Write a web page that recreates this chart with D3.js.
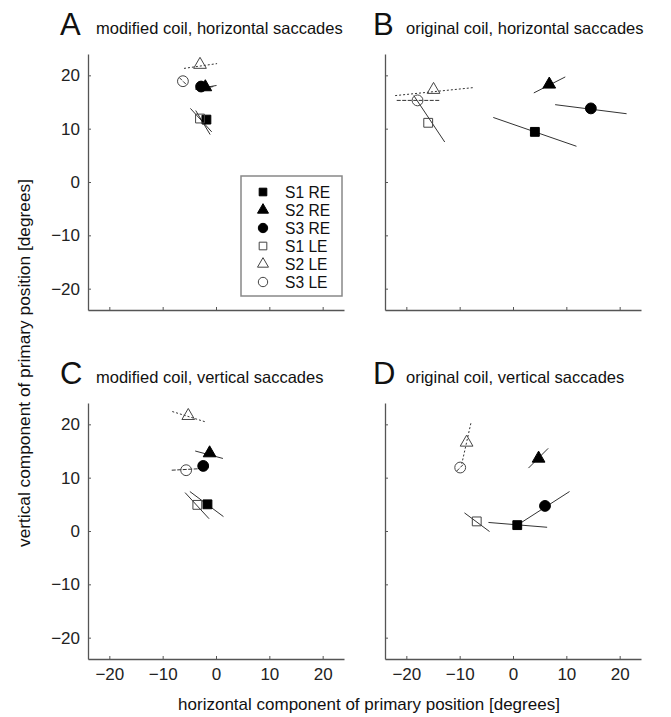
<!DOCTYPE html>
<html>
<head>
<meta charset="utf-8">
<script src="https://cdn.jsdelivr.net/npm/d3@7"></script>
<style>
  body { margin: 0; background: #fff; }
  text { font-family: "Liberation Sans", Arial, sans-serif; }
</style>
</head>
<body>
<script>
var width = 671,
    height = 717;

// series shown in every panel
var series = ["S1 RE", "S2 RE", "S3 RE", "S1 LE", "S2 LE", "S3 LE"];
var ticks = [-20, -10, 0, 10, 20];

// [series, x, y, line x1, y1, x2, y2]  (degrees)
var panelA = [
  ["S1 RE", -1.8, 11.7, -3.8, 13.4, -1.1, 8.9],
  ["S2 RE", -2.0, 17.8, -3.5, 17.3, -0.5, 17.9],
  ["S3 RE", -2.8, 17.9, -3.9, 17.4, 0.1, 18.1],
  ["S1 LE", -3.0, 11.9, -4.8, 13.8, -0.8, 9.4],
  ["S2 LE", -3.0, 22.0, -6.0, 21.3, 0.2, 22.2],
  ["S3 LE", -6.2, 18.9, -6.9, 19.6, -5.5, 18.2]
];
var panelB = [
  ["S1 RE", 4.1, 9.4, -3.7, 12.1, 11.9, 6.7],
  ["S2 RE", 6.8, 18.3, 3.9, 16.7, 9.8, 19.7],
  ["S3 RE", 14.6, 13.8, 7.9, 14.5, 21.3, 12.8],
  ["S1 LE", -15.9, 11.1, -18.6, 16.2, -12.8, 7.5],
  ["S2 LE", -14.9, 17.3, -22.1, 16.2, -7.4, 17.7],
  ["S3 LE", -17.9, 15.3, -21.8, 15.3, -13.7, 15.3]
];
var panelC = [
  ["S1 RE", -1.6, 5.0, -4.9, 7.4, 1.4, 2.7],
  ["S2 RE", -1.2, 14.6, -3.9, 15.0, 1.3, 13.6],
  ["S3 RE", -2.4, 12.2, -2.4, 12.2, -2.4, 12.2],
  ["S1 LE", -3.5, 4.9, -5.8, 7.2, -1.3, 2.3],
  ["S2 LE", -5.2, 21.6, -8.2, 22.4, -2.1, 20.5],
  ["S3 LE", -5.6, 11.4, -8.3, 11.4, -2.7, 11.7]
];
var panelD = [
  ["S1 RE", 0.8, 1.1, -4.6, 1.6, 6.4, 0.7],
  ["S2 RE", 4.8, 13.6, 2.9, 11.8, 6.6, 15.5],
  ["S3 RE", 6.0, 4.7, 0.8, 1.1, 10.6, 7.4],
  ["S1 LE", -6.8, 1.8, -9.1, 3.4, -4.4, -0.1],
  ["S2 LE", -8.7, 16.6, -7.9, 20.2, -9.6, 12.6],
  ["S3 LE", -9.9, 11.9, -10.6, 11.2, -9.2, 12.6]
];

var panels = [
  { letter: "A", title: "modified coil, horizontal saccades", data: panelA, left: 88, top: 54, lx: -28, tx: 8, yLabels: true, xLabels: false },
  { letter: "B", title: "original coil, horizontal saccades", data: panelB, left: 385, top: 54, lx: -12, tx: 21, yLabels: false, xLabels: false },
  { letter: "C", title: "modified coil, vertical saccades", data: panelC, left: 88, top: 403, lx: -28, tx: 8, yLabels: true, xLabels: true },
  { letter: "D", title: "original coil, vertical saccades", data: panelD, left: 385, top: 403, lx: -12, tx: 21, yLabels: false, xLabels: true }
];

var size = 256;

var svg = d3.select("body").append("svg")
    .attr("width", width)
    .attr("height", height)

var x = d3.scaleLinear().domain([-24, 24]).range([0, size]);
var y = d3.scaleLinear().domain([-24, 24]).range([size, 0]);

function shapeOf(s) {
    if (s.indexOf("S1") == 0) return d3.symbolSquare;
    if (s.indexOf("S2") == 0) return d3.symbolTriangle;
    return d3.symbolCircle;
}
function areaOf(s, k) {
    if (s.indexOf("S1") == 0) return 78 * k;
    if (s.indexOf("S2") == 0) return 70 * k;
    return 92 * k;
}
function filled(s) { return s.indexOf("RE") > 0 }
function dashOf(s) {
    if (s == "S2 LE") return "2,2";
    if (s == "S3 LE") return "4,1.5";
    return null;
}

panels.forEach(function (p) {
    var g = svg.append("g")
        .attr("transform", "translate(" + p.left + "," + p.top + ")");

    // panel title
    svg.append("text")
        .attr("x", p.left + p.lx)
        .attr("y", p.top - 19)
        .attr("font-size", 31)
        .attr("fill", "#111")
        .text(p.letter);
    svg.append("text")
        .attr("x", p.left + p.tx)
        .attr("y", p.top - 20)
        .attr("font-size", 16.5)
        .attr("fill", "#111")
        .text(p.title);

    var xAxis = d3.axisBottom(x).tickValues(ticks).tickSizeInner(-3).tickSizeOuter(0).tickPadding(9);
    var yAxis = d3.axisLeft(y).tickValues(ticks).tickSizeInner(-3).tickSizeOuter(0).tickPadding(8);
    if (!p.xLabels) xAxis.tickFormat("");
    if (!p.yLabels) yAxis.tickFormat("");

    var gx = g.append("g").attr("transform", "translate(0," + size + ")").call(xAxis);
    var gy = g.append("g").call(yAxis);
    [gx, gy].forEach(function (a) {
        a.select(".domain").attr("stroke", "#555").attr("stroke-width", 1.3);
        a.selectAll(".tick line").attr("stroke", "#555");
        a.selectAll("text").attr("font-size", 17).attr("fill", "#222")
            .attr("font-family", "Liberation Sans, Arial, sans-serif");
    });

    // lines through each point
    g.selectAll("line.seg")
        .data(p.data)
        .enter().append("line")
        .attr("class", "seg")
        .attr("x1", function (d) { return x(d[3]) })
        .attr("y1", function (d) { return y(d[4]) })
        .attr("x2", function (d) { return x(d[5]) })
        .attr("y2", function (d) { return y(d[6]) })
        .attr("stroke", "#333")
        .attr("stroke-width", 1)
        .attr("stroke-dasharray", function (d) { return dashOf(d[0]) });

    // markers
    g.selectAll("path.mark")
        .data(p.data)
        .enter().append("path")
        .attr("class", "mark")
        .attr("transform", function (d) { return "translate(" + x(d[1]) + "," + y(d[2]) + ")" })
        .attr("d", function (d) { return d3.symbol().type(shapeOf(d[0])).size(areaOf(d[0], 1))() })
        .attr("fill", function (d) { return filled(d[0]) ? "#000" : "none" })
        .attr("stroke", function (d) { return filled(d[0]) ? "#000" : "#444" })
        .attr("stroke-width", 1);
});

// legend in panel A
var leg = svg.append("g").attr("transform", "translate(241,176)");
leg.append("rect")
    .attr("width", 101)
    .attr("height", 120)
    .attr("fill", "#fff")
    .attr("stroke", "#888")
    .attr("stroke-width", 1.5);

var item = leg.selectAll("g.item")
    .data(series)
    .enter().append("g")
    .attr("class", "item")
    .attr("transform", function (d, i) { return "translate(0," + (16 + i * 18) + ")" });

item.append("path")
    .attr("transform", "translate(22,0)")
    .attr("d", function (d) { return d3.symbol().type(shapeOf(d)).size(areaOf(d, 0.75))() })
    .attr("fill", function (d) { return filled(d) ? "#000" : "none" })
    .attr("stroke", function (d) { return filled(d) ? "#000" : "#444" })
    .attr("stroke-width", 1);

item.append("text")
    .attr("x", 44)
    .attr("y", 5.5)
    .attr("font-size", 15.6)
    .attr("fill", "#111")
    .text(function (d) { return d });

// axis titles
svg.append("text")
    .attr("x", 369)
    .attr("y", 710)
    .attr("text-anchor", "middle")
    .attr("font-size", 17)
    .attr("fill", "#111")
    .text("horizontal component of primary position [degrees]");

svg.append("text")
    .attr("transform", "translate(30,363) rotate(-90)")
    .attr("text-anchor", "middle")
    .attr("font-size", 17.3)
    .attr("fill", "#111")
    .text("vertical component of primary position [degrees]");
</script>
</body>
</html>
